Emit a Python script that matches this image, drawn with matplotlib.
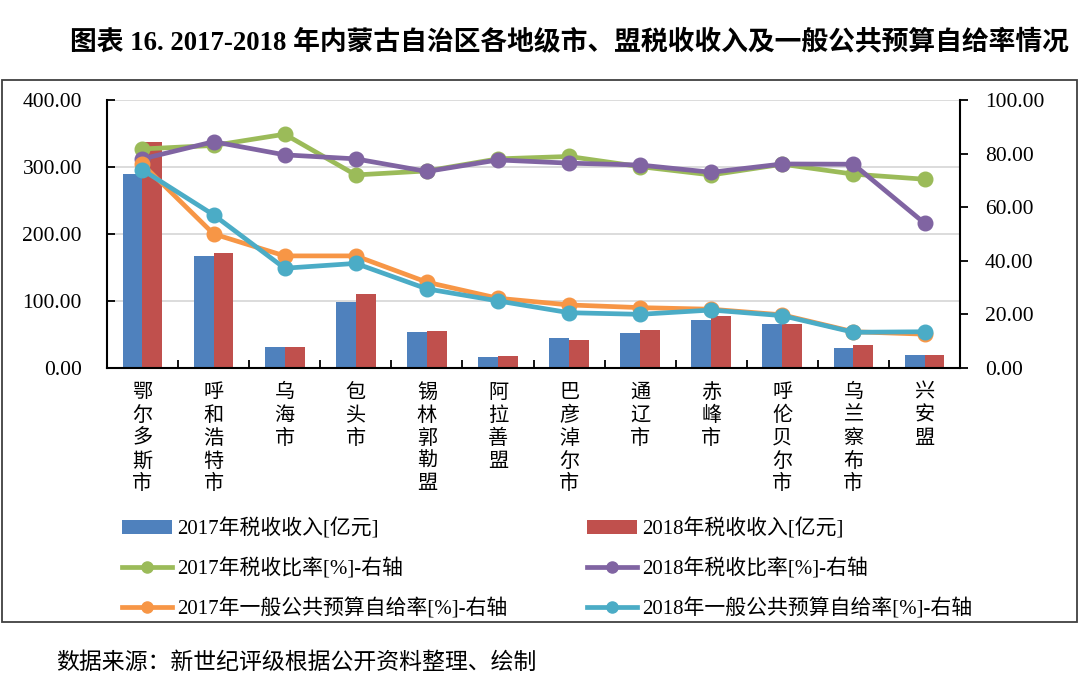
import numpy as np
import matplotlib
matplotlib.use("Agg")
import matplotlib.pyplot as plt
from matplotlib.patches import Patch, Rectangle
from matplotlib.lines import Line2D

plt.rcParams['font.family'] = ['Liberation Serif', 'Noto Sans CJK SC']

# Data

regions = ["鄂尔多斯市", "呼和浩特市", "乌海市", "包头市", "锡林郭勒盟", "阿拉善盟",
           "巴彦淖尔市", "通辽市", "赤峰市", "呼伦贝尔市", "乌兰察布市", "兴安盟"]

tax_2017 = [289, 167, 31, 98, 54, 16, 44, 52, 72, 65, 29, 19]
tax_2018 = [337, 171, 31, 110, 55, 18, 41, 56, 78, 65, 34, 19]

tax_ratio_2017 = [81.7, 83.0, 87.2, 72.0, 73.5, 78.0, 78.9, 75.1, 72.0, 76.0, 72.3, 70.4]
tax_ratio_2018 = [78.0, 84.4, 79.5, 78.0, 73.3, 77.6, 76.4, 75.7, 73.0, 76.1, 76.0, 54.0]

self_rate_2017 = [76.0, 50.0, 41.8, 41.8, 32.0, 26.0, 23.5, 22.5, 21.9, 19.8, 13.5, 12.6]
self_rate_2018 = [73.9, 57.1, 37.2, 39.0, 29.5, 25.0, 20.6, 20.0, 21.6, 19.5, 13.3, 13.5]

left_ticks = [0, 100, 200, 300, 400]
right_ticks = [0, 20, 40, 60, 80, 100]

labels = ["2017年税收收入[亿元]", "2017年税收比率[%]-右轴", "2017年一般公共预算自给率[%]-右轴",
          "2018年税收收入[亿元]", "2018年税收比率[%]-右轴", "2018年一般公共预算自给率[%]-右轴"]

# Colours

blue, red = "#4F81BD", "#C0504D"
green, purple, orange, cyan = "#9BBB59", "#8064A2", "#F79646", "#4BACC6"

# Figure

fig = plt.figure(figsize=(10.8, 6.89), dpi=100, facecolor="white")
ax = fig.add_axes([0.099, 0.466, 0.790, 0.389])

x = np.arange(len(regions))
bar_w = 0.28
ax.bar(x - bar_w / 2, tax_2017, width=bar_w, color=blue, zorder=2)
ax.bar(x + bar_w / 2, tax_2018, width=bar_w, color=red, zorder=2)

ax.set_xlim(-0.5, len(regions) - 0.5)
ax.set_ylim(0, 400)
ax.set_yticks(left_ticks)
ax.set_yticklabels([f"{v:.2f}" for v in left_ticks], fontsize=15.5)
ax.yaxis.grid(True, color="#D9D9D9", linewidth=1.3)
ax.set_axisbelow(True)

ax.set_xticks(x)
ax.set_xticklabels(["\n".join(r) for r in regions], fontsize=14.5, linespacing=1.12,
                   family=['Noto Sans CJK SC'])
ax.set_xticks(np.arange(0.5, len(regions) - 1, 1), minor=True)
ax.tick_params(axis="x", which="major", length=0, pad=10)
ax.tick_params(axis="x", which="minor", direction="in", length=6, width=1.3)
ax.tick_params(axis="y", direction="in", length=6, width=1.3, pad=18)

ax.spines["top"].set_visible(False)
ax.spines["right"].set_visible(False)
for s in ["left", "bottom"]:
    ax.spines[s].set_linewidth(1.5)
    ax.spines[s].set_color("black")

# Right axis lines

ax2 = ax.twinx()
line_kw = dict(linewidth=3.4, marker="o", markersize=10.5, solid_capstyle="round")
ax2.plot(x, tax_ratio_2017, color=green, **line_kw)
ax2.plot(x, tax_ratio_2018, color=purple, **line_kw)
ax2.plot(x, self_rate_2017, color=orange, **line_kw)
ax2.plot(x, self_rate_2018, color=cyan, **line_kw)

ax2.set_ylim(0, 100)
ax2.set_yticks(right_ticks)
ax2.set_yticklabels([f"{v:.2f}" for v in right_ticks], fontsize=15.5)
ax2.tick_params(axis="y", direction="out", length=6, width=1.3, pad=12)
for s in ["top", "left", "bottom"]:
    ax2.spines[s].set_visible(False)
ax2.spines["right"].set_linewidth(1.5)
ax2.spines["right"].set_color("black")

# Legend

handles = [
    Patch(facecolor=blue),
    Line2D([], [], color=green, linewidth=3.4, marker="o", markersize=8),
    Line2D([], [], color=orange, linewidth=3.4, marker="o", markersize=8),
    Patch(facecolor=red),
    Line2D([], [], color=purple, linewidth=3.4, marker="o", markersize=8),
    Line2D([], [], color=cyan, linewidth=3.4, marker="o", markersize=8),
]
fig.legend(handles, labels, ncol=2, loc="upper left", bbox_to_anchor=(0.113, 0.248),
           bbox_transform=fig.transFigure, frameon=False, fontsize=15,
           handlelength=2.4, handleheight=0.6, handletextpad=0.25, columnspacing=3.8,
           labelspacing=0.9, borderpad=0, borderaxespad=0, numpoints=1)

# Frame around chart

fig.add_artist(Rectangle((0.002, 0.097), 0.995, 0.787, transform=fig.transFigure,
                         fill=False, edgecolor="#404040", linewidth=1.3))

# Title and source

fig.text(0.527, 0.939, "图表 16. 2017-2018 年内蒙古自治区各地级市、盟税收收入及一般公共预算自给率情况",
         ha="center", va="center", fontsize=19.3, fontweight="bold")
fig.text(0.052, 0.039, "数据来源：新世纪评级根据公开资料整理、绘制",
         ha="left", va="center", fontsize=16.5, family=['Noto Sans CJK SC'])

fig.savefig("out.png", dpi=100)
